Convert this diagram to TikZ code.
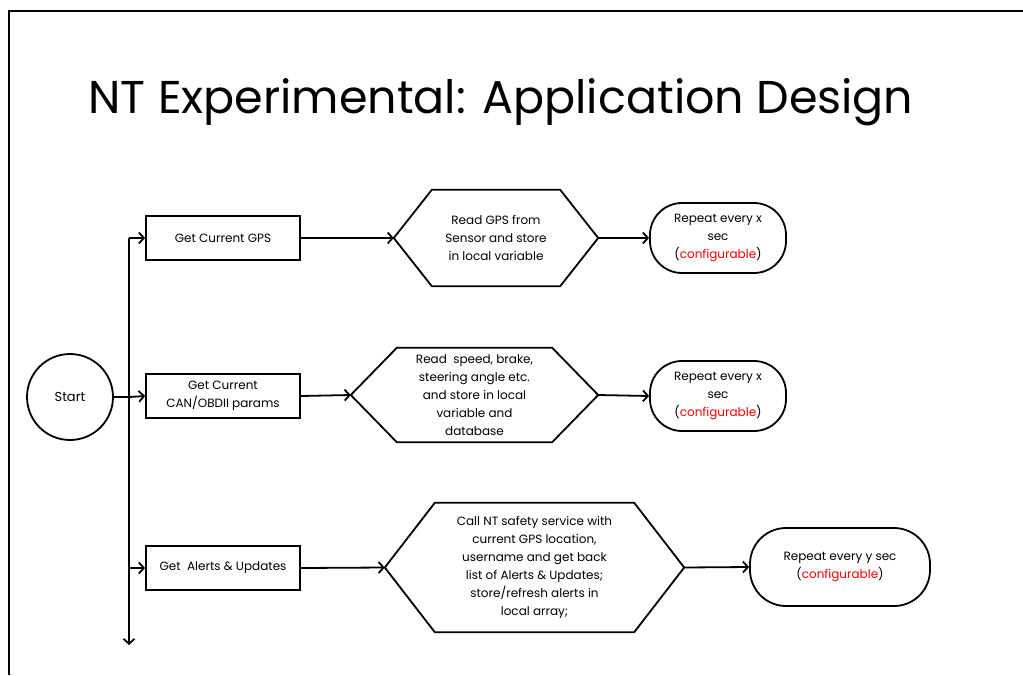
\documentclass[tikz,border=0pt]{standalone}
\usepackage{fontspec}
\setmainfont{Poppins}
\usetikzlibrary{arrows.meta,calc}
\definecolor{cfg}{RGB}{255,0,0}
\tikzset{
  every node/.style={font=\fontsize{12}{18}\selectfont},
  conn/.style={line width=1.8pt,-{Straight Barb[length=5pt,width=11pt,line width=1.8pt]}},
  boxnode/.style={draw,line width=1.8pt,minimum width=154pt,minimum height=44pt,inner sep=0pt,align=center},
  hexnode/.style={inner sep=0pt,align=center},
  roundnode/.style={draw,line width=1.8pt,rounded corners=32pt,inner sep=0pt,align=center},
  hexline/.style={line width=1.8pt,line join=miter}
}
\newcommand{\hexout}[2]{\draw[hexline] (#1.west) -- ($(#1.north west)+(#2,0)$) -- ($(#1.north east)+(-#2,0)$) -- (#1.east) -- ($(#1.south east)+(-#2,0)$) -- ($(#1.south west)+(#2,0)$) -- cycle;}
\begin{document}
\begin{tikzpicture}[x=1pt,y=-1pt]
\useasboundingbox (0,0) rectangle (1023,675);
\draw[line width=2pt] (9,675) -- (9,11) -- (1023,11);
\node[font=\fontsize{46}{52}\selectfont] (title) at (501,102) {NT Experimental: Application Design};

\node[draw,circle,line width=1.8pt,minimum size=86pt,inner sep=0pt,font=\fontsize{13}{16}\selectfont] (start) at (70,397) {Start};

\node[boxnode] (b1) at (223,238) {Get Current GPS};
\node[boxnode] (b2) at (223,396) {Get Current\\CAN/OBDII params};
\node[boxnode] (b3) at (223,568) {Get\ \ Alerts \& Updates};

\node[hexnode,minimum width=204pt,minimum height=96pt] (h1) at (496,238) {Read GPS from\\Sensor and store\\in local variable};
\hexout{h1}{38}
\node[hexnode,minimum width=247pt,minimum height=94pt] (h2) at (474.5,395) {Read\ \ speed, brake,\\steering angle etc.\\and store in local\\variable and\\database};
\hexout{h2}{46}
\node[hexnode,minimum width=299pt,minimum height=129pt] (h3) at (534.5,567.5) {Call NT safety service with\\current GPS location,\\username and get back\\list of Alerts \& Updates;\\store/refresh alerts in\\local array;};
\hexout{h3}{50}

\node[roundnode,minimum width=136pt,minimum height=70pt] (r1) at (718,238) {Repeat every x\\sec\\(\textcolor{cfg}{configurable})};
\node[roundnode,minimum width=136pt,minimum height=70pt] (r2) at (718,396) {Repeat every x\\sec\\(\textcolor{cfg}{configurable})};
\node[roundnode,minimum width=180pt,minimum height=78pt,rounded corners=36pt] (r3) at (840,567) {Repeat every y sec\\(\textcolor{cfg}{configurable})};

\coordinate (jt) at (129,238);
\coordinate (jb) at (129,645);
\coordinate (js) at (129,397);
\draw[conn] (jt) -- (b1.west);
\draw[line width=1.8pt] (start.east) -- (js);
\draw[conn] (js) -- (b2.west);
\draw[conn] (129,568) -- (b3.west);
\draw[conn] (jt) -- (jb);

\draw[conn] (b1.east) -- (h1.west);
\draw[conn] (b2.east) -- (h2.west);
\draw[conn] (b3.east) -- (h3.west);
\draw[conn] (h1.east) -- (r1.west);
\draw[conn] (h2.east) -- (r2.west);
\draw[conn] (h3.east) -- (r3.west);
\end{tikzpicture}
\end{document}
